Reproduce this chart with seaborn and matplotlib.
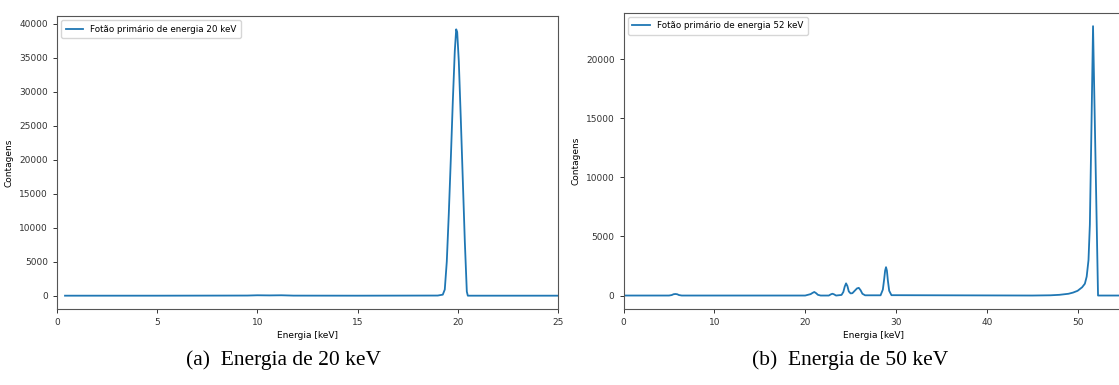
import matplotlib
matplotlib.use("Agg")
import matplotlib.pyplot as plt
import seaborn as sns
import pandas as pd

# ---- data ----
energy_20 = [0.4, 5.0, 9.5, 10.0, 10.6, 11.2, 11.8, 15.0, 19.0, 19.25, 19.35, 19.45,
             19.55, 19.65, 19.75, 19.85, 19.92, 19.97, 20.05, 20.15, 20.25, 20.35,
             20.45, 20.5, 25.0]
counts_20 = [0, 0, 20, 60, 40, 60, 10, 0, 20, 150, 900, 5000,
             12000, 20000, 28500, 36000, 39200, 38800, 34500, 26000, 17000, 8000,
             600, 0, 0]

energy_52 = [0.0, 5.0, 5.3, 5.5, 5.7, 5.9, 6.1, 6.4,
             20.0, 20.3, 20.6, 20.8, 21.0, 21.2, 21.4, 21.7,
             22.6, 22.85, 23.0, 23.15, 23.4,
             24.0, 24.2, 24.35, 24.5, 24.65, 24.8, 25.0, 25.2,
             25.45, 25.7, 25.9, 26.1, 26.3, 26.6,
             28.3, 28.55, 28.7, 28.8, 28.9, 29.0, 29.1, 29.25, 29.5,
             45.0, 47.0, 48.0, 49.0, 49.5, 50.0, 50.5, 50.8, 51.0,
             51.2, 51.35, 51.5, 51.7, 52.25, 52.4, 55.0]
counts_52 = [0, 0, 40, 110, 130, 110, 40, 0,
             0, 60, 120, 220, 300, 200, 60, 0,
             0, 110, 150, 110, 0,
             50, 300, 750, 1030, 800, 350, 180, 200,
             400, 600, 650, 450, 150, 20,
             20, 500, 1400, 2100, 2400, 2100, 1300, 400, 30,
             0, 20, 60, 150, 250, 400, 700, 1000, 1600,
             3000, 6000, 13000, 22800, 0, 0, 0]

label_20 = "Fotão primário de energia 20 keV"
label_52 = "Fotão primário de energia 52 keV"
captions = ["(a)  Energia de 20 keV", "(b)  Energia de 50 keV"]
xlabel = "Energia [keV]"
ylabel = "Contagens"

df20 = pd.DataFrame({"E": energy_20, "C": counts_20, "s": label_20})
df52 = pd.DataFrame({"E": energy_52, "C": counts_52, "s": label_52})

W, H = 1119, 385
fig = plt.figure(figsize=(W / 100, H / 100), dpi=100)

ax1 = fig.add_axes([57 / W, 1 - 309 / H, (558 - 57) / W, (309 - 16) / H])
ax2 = fig.add_axes([623.6 / W, 1 - 309 / H, (1123 - 623.6) / W, (309 - 12.7) / H])

blue = "#1f77b4"
for ax, df, xmax, xt in [(ax1, df20, 25, [0, 5, 10, 15, 20, 25]),
                         (ax2, df52, 55, [0, 10, 20, 30, 40, 50])]:
    sns.lineplot(data=df, x="E", y="C", hue="s", palette=[blue], ax=ax,
                 linewidth=1.3, estimator=None, sort=False)
    ax.set_xlim(0, xmax)
    ax.set_xticks(xt)
    ax.set_xlabel(xlabel, fontsize=6.5, labelpad=3)
    ax.set_ylabel(ylabel, fontsize=6.5, labelpad=4)
    ax.tick_params(labelsize=6.5, length=3, width=0.7, colors="#333333")
    for sp in ax.spines.values():
        sp.set_color("#555555")
        sp.set_linewidth(0.8)
    leg = ax.legend(loc="upper left", fontsize=6.3, frameon=True,
                    handlelength=2.0, borderpad=0.5)
    leg.set_title(None)

ax1.set_yticks(range(0, 40001, 5000))
ax2.set_yticks(range(0, 20001, 5000))

fig.text(284 / W, 1 - 360 / H, captions[0], ha="center", va="center",
         fontsize=15.5, family="Liberation Serif")
fig.text(850 / W, 1 - 360 / H, captions[1], ha="center", va="center",
         fontsize=15.5, family="Liberation Serif")

fig.savefig("out.png", dpi=100)
